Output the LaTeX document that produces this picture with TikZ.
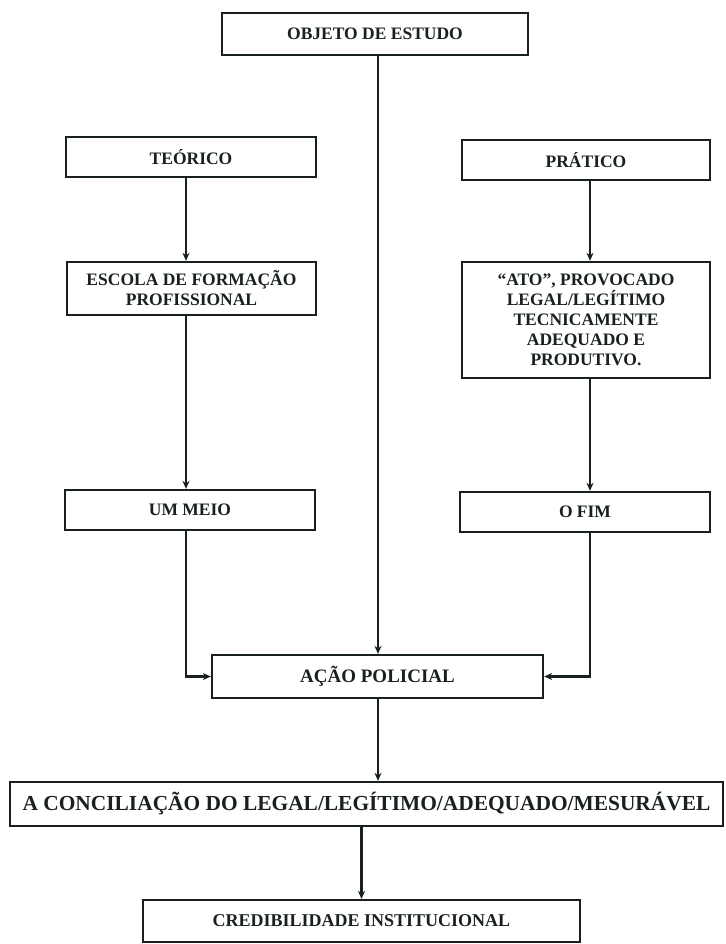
\documentclass[tikz,border=0pt]{standalone}
\usepackage{fontspec}
\setmainfont{Liberation Serif}
\usetikzlibrary{arrows.meta,calc}
\definecolor{ink}{rgb}{0.10,0.13,0.12}
\begin{document}
\begin{tikzpicture}[x=1pt,y=-1pt,
  box/.style={draw=ink,line width=2.3pt,text=ink,inner sep=2pt,align=center,
    font=\fontsize{17.5}{20}\selectfont\bfseries},
  conn/.style={draw=ink,line width=2.2pt},
  arr/.style={conn,-{Stealth[length=8pt,width=7pt,inset=2.5pt]}}]
\useasboundingbox[fill=white] (0,0) rectangle (725,944);
% boxes
\node[box,minimum width=306pt,minimum height=42pt] (obj) at (375,34) {OBJETO DE ESTUDO};
\node[box,minimum width=250pt,minimum height=40pt] (teo) at (191,157) {TEÓRICO};
\node[box,minimum width=248pt,minimum height=40pt] (pra) at (586,160) {PRÁTICO};
\node[box,minimum width=249pt,minimum height=53pt] (esc) at (191.5,288.5) {ESCOLA DE FORMAÇÃO\\PROFISSIONAL};
\node[box,minimum width=248pt,minimum height=116pt] (ato) at (586,320) {“ATO”, PROVOCADO\\LEGAL/LEGÍTIMO\\TECNICAMENTE\\ADEQUADO E\\PRODUTIVO.};
\node[box,minimum width=250pt,minimum height=40pt] (meio) at (190,510) {UM MEIO};
\node[box,minimum width=250pt,minimum height=40pt] (fim) at (585,512) {O FIM};
\node[box,minimum width=331pt,minimum height=43pt,font=\fontsize{19}{22}\selectfont\bfseries] (acao) at (377.5,676.5) {AÇÃO POLICIAL};
\node[box,minimum width=713pt,minimum height=44pt,font=\fontsize{21.4}{24}\selectfont\bfseries] (conc) at (366.5,804) {A CONCILIAÇÃO DO LEGAL/LEGÍTIMO/ADEQUADO/MESURÁVEL};
\node[box,minimum width=437pt,minimum height=42pt,font=\fontsize{18}{21}\selectfont\bfseries] (cred) at (361.5,921) {CREDIBILIDADE INSTITUCIONAL};
% column guides
\coordinate (lc) at (186,0);
\coordinate (rc) at (590,0);
\coordinate (mc) at (378,0);
% connectors
\draw[arr] (teo.south -| lc) -- (esc.north -| lc);
\draw[arr] (esc.south -| lc) -- (meio.north -| lc);
\draw[arr] (meio.south -| lc) |- (acao.west);
\draw[arr] (pra.south -| rc) -- (ato.north -| rc);
\draw[arr] (ato.south -| rc) -- (fim.north -| rc);
\draw[arr] (fim.south -| rc) |- (acao.east);
\draw[arr] (obj.south -| mc) -- (acao.north -| mc);
\draw[arr] (acao.south -| mc) -- (conc.north -| mc);
\draw[arr] (conc.south -| cred.north) -- (cred.north);
\end{tikzpicture}
\end{document}
